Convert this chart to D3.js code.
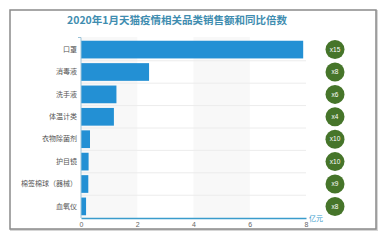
<!DOCTYPE html>
<html><head><meta charset="utf-8">
<script src="https://cdn.jsdelivr.net/npm/d3@7"></script>
<style>
html,body{margin:0;padding:0;background:#fff;}
svg{display:block;font-family:"Noto Sans CJK SC","Noto Sans",sans-serif;}
</style></head>
<body><svg id="c" width="387" height="240"></svg>
<script>
const title = "2020年1月天猫疫情相关品类销售额和同比倍数";
const categories = ["口罩","消毒液","洗手液","体温计类","衣物除菌剂","护目镜","棉签棉球（器械）","血氧仪"];
const sales = [7.9, 2.42, 1.26, 1.17, 0.32, 0.27, 0.26, 0.18];
const multiples = ["x15","x8","x6","x4","x10","x10","x9","x8"];
const xTicks = [0,2,4,6,8];
const unit = "亿元";

const svg = d3.select("#c");
// frame
svg.append("rect").attr("x",11).attr("y",11).attr("width",366).attr("height",219)
  .attr("fill","none").attr("stroke","#d6d6d6").attr("stroke-width",2);
svg.append("rect").attr("x",10).attr("y",10).attr("width",366).attr("height",219)
  .attr("fill","#fff").attr("stroke","#8a8a8a").attr("stroke-width",1.5);

svg.append("text").attr("x",177).attr("y",24).attr("text-anchor","middle")
  .attr("font-size",10.5).attr("font-weight","bold").attr("fill","#3f8db0").text(title);

const x = d3.scaleLinear().domain([0,8]).range([81,306]);
const y = d3.scaleBand().domain(categories).range([38.5,217.5]).paddingInner(0.21).paddingOuter(0.1);

// stripes
for (let i=0;i<xTicks.length-1;i+=2){
  svg.append("rect").attr("x",x(xTicks[i])).attr("y",37).attr("width",x(xTicks[i+1])-x(xTicks[i]))
    .attr("height",218-37).attr("fill","#f8f8f8");
}
// horizontal grid lines between bands
const step = y.step();
categories.slice(1).forEach(c=>{
  const yy = y(c) - (step - y.bandwidth())/2;
  svg.append("line").attr("x1",81).attr("x2",306).attr("y1",yy).attr("y2",yy)
    .attr("stroke","#ececec").attr("stroke-width",1);
});

svg.selectAll("rect.bar").data(categories).enter().append("rect").attr("class","bar")
  .attr("x",x(0)).attr("y",d=>y(d)).attr("height",y.bandwidth())
  .attr("width",(d,i)=>x(sales[i])-x(0)).attr("fill","#2390d4");

// y axis
const ya = svg.append("g").attr("transform","translate(81,0)").call(d3.axisLeft(y).tickSize(0).tickPadding(4));
ya.select(".domain").attr("stroke","#9cc3d8").attr("d","M-3,37.5H0V218");
ya.selectAll("text").attr("font-size",7).attr("fill","#555").attr("font-family","'Noto Sans CJK SC',sans-serif");

// x axis
const xa = svg.append("g").attr("transform","translate(0,218)").call(d3.axisBottom(x).tickValues(xTicks).tickSize(0).tickPadding(4));
xa.select(".domain").attr("stroke","#3a9ccc").attr("stroke-width",1.3);
xa.selectAll("text").attr("font-size",7).attr("fill","#666");
svg.append("text").attr("x",309).attr("y",221).attr("font-size",7).attr("fill","#3a9ccc").text(unit);

// circles
const g = svg.selectAll("g.m").data(categories).enter().append("g").attr("class","m")
  .attr("transform",d=>`translate(335,${y(d)+y.bandwidth()/2})`);
g.append("circle").attr("r",9.5).attr("fill","#46752a");
g.append("text").attr("text-anchor","middle").attr("dy","0.35em").attr("font-size",6.5)
  .attr("font-family","'Liberation Sans',sans-serif").attr("fill","#fff").text((d,i)=>multiples[i]);
</script></body></html>
